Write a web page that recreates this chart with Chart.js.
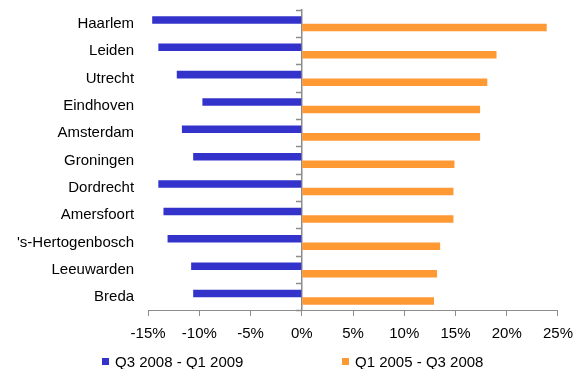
<!DOCTYPE html>
<html>
<head>
<meta charset="utf-8">
<script src="https://cdn.jsdelivr.net/npm/chart.js@4/dist/chart.umd.min.js"></script>
<style>
  html, body { margin: 0; padding: 0; background: #fff; }
  #wrap { position: relative; width: 574px; height: 369px; }
  #legend { position: absolute; left: 0; top: 352px; width: 574px; height: 18px;
            font: 15px "Liberation Sans", Arial, sans-serif; color: #000; }
  .item { position: absolute; top: 0; height: 18px; display: flex; align-items: center; white-space: nowrap; }
  .sw { width: 7px; height: 7px; margin-right: 6px; }
</style>
</head>
<body>
<div id="wrap">
  <canvas id="c" width="574" height="369"></canvas>
  <div id="legend"></div>
</div>
<script>
// Cities, top to bottom
const cities = ['Haarlem', 'Leiden', 'Utrecht', 'Eindhoven', 'Amsterdam', 'Groningen',
                'Dordrecht', 'Amersfoort', "'s-Hertogenbosch", 'Leeuwarden', 'Breda'];

// Price change per period, in percent
const recentChange = [-14.6, -14.0, -12.2, -9.7, -11.7, -10.6, -14.0, -13.5, -13.1, -10.8, -10.6];
const earlierChange = [23.9, 19.0, 18.1, 17.4, 17.4, 14.9, 14.8, 14.8, 13.5, 13.2, 12.9];

const seriesNames = ['Q3 2008 - Q1 2009', 'Q1 2005 - Q3 2008'];
const seriesColors = ['#3333CC', '#FF9933'];

// Value axis ticks, in percent
const xTicks = [-15, -10, -5, 0, 5, 10, 15, 20, 25];

const FONT = { family: '"Liberation Sans", Arial, sans-serif', size: 15 };
const AXIS_GREY = '#8c8c8c';

const chart = new Chart(document.getElementById('c'), {
  type: 'bar',
  data: {
    labels: cities,
    datasets: [
      { label: seriesNames[0], data: recentChange, backgroundColor: seriesColors[0] },
      { label: seriesNames[1], data: earlierChange, backgroundColor: seriesColors[1] }
    ]
  },
  options: {
    indexAxis: 'y',
    responsive: false,
    animation: false,
    devicePixelRatio: 1,
    categoryPercentage: 0.55,
    barPercentage: 1,
    layout: { padding: { left: 16, right: 16, top: 10, bottom: 17 } },
    plugins: {
      legend: { display: false },
      tooltip: { enabled: false }
    },
    scales: {
      x: {
        type: 'linear',
        min: xTicks[0],
        max: xTicks[xTicks.length - 1],
        afterBuildTicks: (scale) => { scale.ticks = xTicks.map(v => ({ value: v })); },
        border: { display: true, color: AXIS_GREY, width: 1 },
        grid: { drawOnChartArea: false, drawTicks: true, tickLength: 5, tickColor: AXIS_GREY, tickWidth: 1 },
        // tall line height sets the gap between the axis and the percent labels
        ticks: { color: '#000', font: { ...FONT, lineHeight: 2.27 }, padding: 1, maxRotation: 0,
                 callback: (v) => v + '%' }
      },
      y: {
        type: 'category',
        position: 'left',
        offset: true,
        border: { display: false },
        // invisible tick marks keep the city names clear of the plot
        grid: { display: true, drawOnChartArea: false, drawTicks: true, tickLength: 13,
                tickColor: 'rgba(0,0,0,0)' },
        ticks: { color: '#000', font: FONT, padding: 1 }
      },
      // Category axis drawn along the zero line
      y2: {
        type: 'category',
        axis: 'y',
        labels: cities,
        position: { x: 0 },
        offset: true,
        border: { display: true, color: AXIS_GREY, width: 1.5 },
        grid: { offset: true, drawOnChartArea: false, drawTicks: true, tickLength: 5,
                tickColor: AXIS_GREY, tickWidth: 1.5 },
        ticks: { display: false }
      }
    }
  }
});

// Legend below the chart
const legend = document.getElementById('legend');
const legendLeft = [102, 342];
seriesNames.forEach((name, i) => {
  const item = document.createElement('div');
  item.className = 'item';
  item.style.left = legendLeft[i] + 'px';
  const sw = document.createElement('span');
  sw.className = 'sw';
  sw.style.background = seriesColors[i];
  const txt = document.createElement('span');
  txt.textContent = name;
  item.appendChild(sw);
  item.appendChild(txt);
  legend.appendChild(item);
});
</script>
</body>
</html>
